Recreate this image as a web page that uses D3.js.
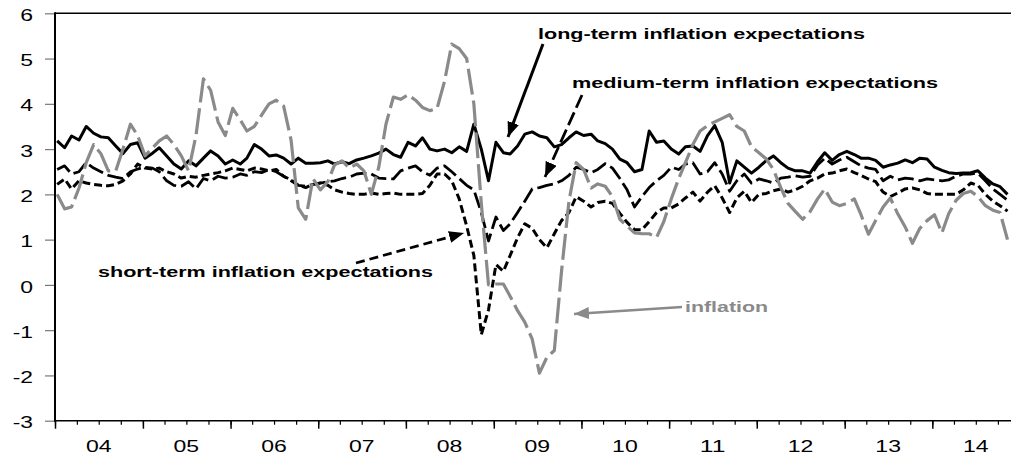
<!DOCTYPE html>
<html><head><meta charset="utf-8">
<script src="https://cdn.jsdelivr.net/npm/d3@7"></script>
<style>body{margin:0;background:#fff}svg{display:block}</style>
</head><body>
<svg id="chart" width="1011" height="459"></svg>
<script>
// ---- data (monthly, Jan 2004 .. Nov 2014) ----
const startYear = 2004;
const yearLabels = ["04","05","06","07","08","09","10","11","12","13","14"];
const yTickValues = [-3,-2,-1,0,1,2,3,4,5,6];

const longTerm = [
3.18,3.03,3.29,3.2,3.5,3.35,3.27,3.25,3.07,2.9,3.1,3.14,
2.8,2.91,3.03,2.85,2.67,2.56,2.74,2.63,2.8,2.96,2.85,2.67,
2.76,2.67,2.8,3.1,3.0,2.85,2.87,2.8,2.67,2.8,2.69,2.69,
2.7,2.74,2.67,2.72,2.68,2.76,2.8,2.85,2.91,3.0,2.88,2.82,
3.15,3.07,3.25,3.0,2.96,3.0,2.92,3.05,2.95,3.55,3.0,2.3,
3.15,2.92,2.89,3.07,3.33,3.38,3.29,3.25,3.05,3.1,3.25,3.38,
3.3,3.33,3.18,3.12,3.0,2.78,2.7,2.5,2.55,3.4,3.15,3.18,
3.0,2.89,3.05,3.07,2.95,3.3,3.52,3.15,2.25,2.74,2.6,2.47,
2.6,2.75,2.85,2.7,2.58,2.52,2.52,2.47,2.72,2.92,2.75,2.88,
2.95,2.88,2.8,2.8,2.75,2.6,2.65,2.69,2.76,2.7,2.8,2.78,
2.6,2.53,2.48,2.46,2.47,2.48,2.52,2.36,2.23,2.17,2.0];

const mediumTerm = [
2.55,2.63,2.45,2.5,2.7,2.58,2.5,2.42,2.38,2.35,2.5,2.56,
2.6,2.58,2.5,2.3,2.2,2.18,2.28,2.12,2.35,2.3,2.4,2.36,
2.38,2.45,2.42,2.5,2.48,2.55,2.5,2.4,2.3,2.2,2.18,2.22,
2.25,2.28,2.3,2.35,2.38,2.45,2.47,2.45,2.36,2.35,2.34,2.52,
2.58,2.63,2.5,2.42,2.58,2.63,2.5,2.35,2.2,2.1,1.6,0.97,
1.5,1.2,1.35,1.6,1.85,2.12,2.15,2.2,2.23,2.3,2.42,2.6,
2.55,2.48,2.55,2.68,2.58,2.35,2.1,1.72,1.95,2.15,2.3,2.42,
2.6,2.55,2.67,2.7,2.45,2.5,2.7,2.45,2.07,2.3,2.45,2.25,
2.34,2.3,2.25,2.36,2.38,2.41,2.38,2.4,2.65,2.8,2.67,2.76,
2.82,2.72,2.63,2.58,2.55,2.3,2.4,2.32,2.36,2.34,2.3,2.34,
2.32,2.3,2.32,2.4,2.45,2.45,2.47,2.3,2.12,2.0,1.87];

const shortTerm = [
2.22,2.34,2.12,2.3,2.25,2.22,2.2,2.19,2.22,2.3,2.45,2.67,
2.58,2.56,2.58,2.5,2.45,2.36,2.4,2.38,2.42,2.45,2.48,2.52,
2.58,2.55,2.52,2.58,2.56,2.52,2.55,2.4,2.32,2.2,2.15,2.22,
2.25,2.2,2.1,2.05,2.02,2.0,2.0,2.03,2.0,2.02,2.03,2.0,
2.0,2.0,2.02,2.2,2.45,2.45,2.3,1.9,1.3,0.65,-1.1,-0.55,
0.45,0.3,0.65,1.04,1.35,1.25,1.0,0.82,1.13,1.42,1.6,1.95,
1.85,1.72,1.82,1.85,1.8,1.58,1.38,1.22,1.22,1.4,1.6,1.7,
1.7,1.79,1.92,2.05,1.85,2.05,2.19,1.92,1.6,1.92,2.07,1.82,
2.0,2.02,2.08,2.12,2.05,2.1,2.18,2.3,2.36,2.45,2.47,2.52,
2.56,2.48,2.42,2.34,2.28,2.05,1.95,2.03,2.12,2.14,2.1,2.02,
2.0,2.0,2.0,2.0,2.1,2.25,2.2,2.0,1.85,1.75,1.63];

const inflation = [
2.0,1.68,1.72,2.14,2.7,3.1,2.9,2.52,2.52,3.0,3.55,3.3,
2.85,3.03,3.18,3.29,3.1,2.85,2.52,3.3,4.55,4.3,3.6,3.3,
3.9,3.65,3.4,3.5,3.75,4.0,4.08,3.95,3.2,1.7,1.45,2.35,
2.1,2.28,2.65,2.74,2.58,2.67,2.52,2.0,2.6,3.55,4.15,4.1,
4.2,4.08,3.92,3.85,3.9,4.5,5.32,5.22,5.0,4.0,1.8,0.0,
0.02,0.02,-0.25,-0.57,-0.82,-1.2,-1.95,-1.6,-1.45,0.3,1.85,2.7,
2.55,2.14,2.23,2.18,1.95,1.45,1.3,1.15,1.13,1.13,1.05,1.4,
1.9,2.35,2.7,3.1,3.4,3.52,3.6,3.68,3.76,3.5,3.4,3.05,
2.92,2.78,2.55,2.15,1.8,1.62,1.45,1.62,1.9,2.12,1.83,1.75,
1.8,1.9,1.55,1.12,1.42,1.72,1.92,1.57,1.28,0.92,1.25,1.42,
1.55,1.15,1.57,1.87,2.02,2.07,1.95,1.75,1.65,1.6,1.0];

const labelLong = "long-term inflation expectations";
const labelMedium = "medium-term inflation expectations";
const labelShort = "short-term inflation expectations";
const labelInfl = "inflation";

// ---- drawing ----
const svg = d3.select("#chart");
const FONT = "'Liberation Sans', Arial, Helvetica, sans-serif";
const GREY = "#8a8a8a";
const left = 55, right = 1011;

const dates = longTerm.map((_, i) => new Date(startYear, i, 10));
const x = d3.scaleTime().domain([new Date(startYear,0,1), new Date(startYear+11,0,1)]).range([left, 1020]);
const y = d3.scaleLinear().domain([-3, 6]).range([420.7, 13.3]);

// stretched digits like the original
function widthOf(s){ let w=0; for(const c of s){ w += (c==="-") ? 7.5 : 12.8; } return w; }

// y axis
const gy = svg.append("g").attr("transform", `translate(${left},0)`)
  .call(d3.axisLeft(y).tickValues(yTickValues).tickSize(10).tickPadding(12).tickFormat(d => String(d)));
gy.select(".domain").remove();
gy.selectAll(".tick line").attr("stroke", "#777").attr("stroke-width", 1.2);
gy.selectAll(".tick text").attr("font-family", FONT).attr("font-size", 17).attr("fill", "#000")
  .attr("dy", "0.42em")
  .attr("textLength", d => widthOf(String(d))).attr("lengthAdjust", "spacingAndGlyphs");

// x axis: minor quarterly + major yearly ticks
const gxMinor = svg.append("g").attr("transform", `translate(0,${y(-3)})`)
  .call(d3.axisBottom(x).ticks(d3.timeMonth.every(3)).tickSize(4).tickFormat(""));
gxMinor.select(".domain").remove();
gxMinor.selectAll(".tick line").attr("stroke", "#000").attr("stroke-width", 1.2);
const gxMajor = svg.append("g").attr("transform", `translate(0,${y(-3)})`)
  .call(d3.axisBottom(x).ticks(d3.timeYear.every(1)).tickSize(8).tickFormat(""));
gxMajor.select(".domain").remove();
gxMajor.selectAll(".tick line").attr("stroke", "#000").attr("stroke-width", 1.5);

svg.append("g").selectAll("text").data(yearLabels).join("text")
  .attr("x", (d, i) => x(new Date(startYear + i, 6, 1)))
  .attr("y", 452)
  .attr("text-anchor", "middle")
  .attr("font-family", FONT).attr("font-size", 17)
  .attr("textLength", d => widthOf(d)).attr("lengthAdjust", "spacingAndGlyphs")
  .text(d => d);

// frame
svg.append("line").attr("x1", left).attr("x2", left).attr("y1", y(6)-1).attr("y2", y(-3)+1)
  .attr("stroke", "#000").attr("stroke-width", 2);
svg.append("line").attr("x1", left).attr("x2", right).attr("y1", y(6)).attr("y2", y(6))
  .attr("stroke", "#000").attr("stroke-width", 1.5);
svg.append("line").attr("x1", left).attr("x2", right).attr("y1", y(-3)).attr("y2", y(-3))
  .attr("stroke", "#000").attr("stroke-width", 1.5);

// series
const line = d3.line().x((d, i) => x(dates[i])).y(d => y(d));
const series = [
  {data: shortTerm, color: "#000", width: 3, dash: "8,4"},
  {data: mediumTerm, color: "#000", width: 2.8, dash: "16,5"},
  {data: longTerm, color: "#000", width: 3, dash: null},
  {data: inflation, color: GREY, width: 3.2, dash: "26,6"}
];
svg.append("g").selectAll("path").data(series).join("path")
  .attr("d", s => line(s.data))
  .attr("fill", "none")
  .attr("stroke", s => s.color)
  .attr("stroke-width", s => s.width)
  .attr("stroke-dasharray", s => s.dash)
  .attr("stroke-linejoin", "round");

// arrow markers
const defs = svg.append("defs");
[["arrBlack", "#000"], ["arrGrey", GREY]].forEach(([id, c]) => {
  defs.append("marker").attr("id", id).attr("markerUnits", "userSpaceOnUse")
    .attr("markerWidth", 16).attr("markerHeight", 12).attr("refX", 15).attr("refY", 6)
    .attr("orient", "auto")
    .append("path").attr("d", "M0,0 L15,6 L0,12 Z").attr("fill", c);
});

const annotations = [
  {text: labelLong, tx: 538, ty: 39, tw: 327, color: "#000", a: [543, 44, 508, 137], dash: null, marker: "arrBlack", aw: 3},
  {text: labelMedium, tx: 572, ty: 88, tw: 366, color: "#000", a: [582, 95, 545, 177], dash: "14,5", marker: "arrBlack", aw: 2.8},
  {text: labelShort, tx: 98, ty: 277, tw: 335, color: "#000", a: [356, 263, 464, 233], dash: "9,5", marker: "arrBlack", aw: 2.8},
  {text: labelInfl, tx: 685, ty: 312, tw: 83, color: GREY, a: [682, 307, 574, 314], dash: null, marker: "arrGrey", aw: 2.6}
];
const ga = svg.append("g");
annotations.forEach(an => {
  ga.append("text").attr("x", an.tx).attr("y", an.ty)
    .attr("font-family", FONT).attr("font-weight", "bold").attr("font-size", 15)
    .attr("fill", an.color)
    .attr("textLength", an.tw).attr("lengthAdjust", "spacingAndGlyphs")
    .text(an.text);
  ga.append("line").attr("x1", an.a[0]).attr("y1", an.a[1]).attr("x2", an.a[2]).attr("y2", an.a[3])
    .attr("stroke", an.color).attr("stroke-width", an.aw)
    .attr("stroke-dasharray", an.dash)
    .attr("marker-end", `url(#${an.marker})`);
});
</script>
</body></html>
